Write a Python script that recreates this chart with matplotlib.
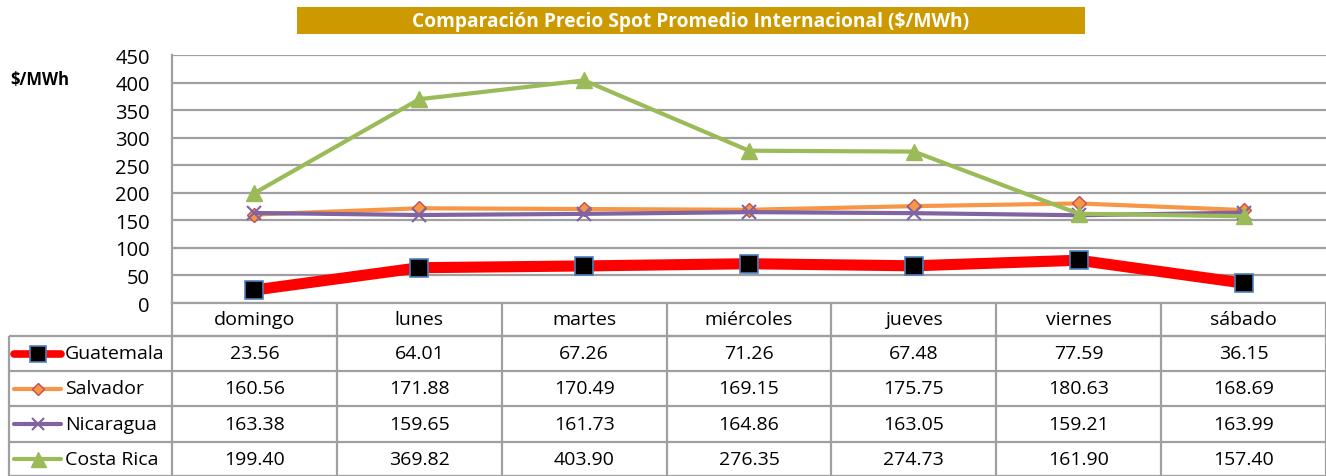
import matplotlib
matplotlib.use("Agg")
import matplotlib.pyplot as plt
from matplotlib.patches import Rectangle

days = ["domingo", "lunes", "martes", "miércoles", "jueves", "viernes", "sábado"]
series_names = ["Guatemala", "Salvador", "Nicaragua", "Costa Rica"]
guatemala = [23.56, 64.01, 67.26, 71.26, 67.48, 77.59, 36.15]
salvador = [160.56, 171.88, 170.49, 169.15, 175.75, 180.63, 168.69]
nicaragua = [163.38, 159.65, 161.73, 164.86, 163.05, 159.21, 163.99]
costa_rica = [199.40, 369.82, 403.90, 276.35, 274.73, 161.90, 157.40]
y_ticks = [0, 50, 100, 150, 200, 250, 300, 350, 400, 450]
title = "Comparación Precio Spot Promedio Internacional ($/MWh)"
y_label = "$/MWh"

values = [guatemala, salvador, nicaragua, costa_rica]
styles = [
    dict(color="#FF0000", lw=8, marker="s", ms=13, mfc="#000000", mec="#4F81BD", mew=1.2),
    dict(color="#F79646", lw=3, marker="D", ms=7, mfc="#F79646", mec="#C0504D", mew=1.0),
    dict(color="#8064A2", lw=3, marker="x", ms=10, mfc="#8064A2", mec="#8064A2", mew=1.5),
    dict(color="#9BBB59", lw=3, marker="^", ms=12, mfc="#9BBB59", mec="#9BBB59", mew=1.0),
]

W, H = 1326, 477
FONT = "Open Sans"
FS = 14
GRID = "#A0A0A0"

fig = plt.figure(figsize=(W / 100, H / 100), dpi=100)

ov = fig.add_axes([0, 0, 1, 1])
ov.set_xlim(0, W)
ov.set_ylim(H, 0)
ov.axis("off")

x0, x1, ytop, ybot = 172, 1326, 56, 304
ax = fig.add_axes([x0 / W, 1 - ybot / H, (x1 - x0) / W, (ybot - ytop) / H])
ax.set_xlim(-0.5, len(days) - 0.5)
ax.set_ylim(0, 450)
ax.set_yticks(y_ticks)
ax.set_yticklabels([str(t) for t in y_ticks], fontsize=14.5, family=FONT)
ax.tick_params(axis="y", length=0, pad=16)
ax.set_xticks([])
ax.grid(axis="y", color=GRID, lw=1.6)
ax.set_axisbelow(True)
for s in ["top", "right"]:
    ax.spines[s].set_visible(False)
ax.spines["left"].set_color(GRID)
ax.spines["left"].set_linewidth(1.6)
ax.spines["bottom"].set_color(GRID)
ax.spines["bottom"].set_linewidth(1.6)
xs = list(range(len(days)))
for vals, st in zip(values, styles):
    ax.plot(xs, vals, solid_capstyle="butt", solid_joinstyle="round", **st, zorder=3)

ov.add_patch(Rectangle((297, 8), 788, 27, facecolor="#CC9900", edgecolor="none"))
ov.text((297 + 1085) / 2, 22, title, color="white", fontsize=13.8, fontweight="bold",
        family=FONT, ha="center", va="center")
ov.text(10, 80, y_label, fontsize=12, fontweight="bold", family=FONT, ha="left", va="center")

col_w = (x1 - x0) / len(days)
rows = [304, 337, 372, 407, 443, 477]
lkw = dict(color=GRID, lw=1.6, solid_capstyle="butt")
ov.plot([x0, x1], [rows[1], rows[1]], **lkw)
for r in rows[1:]:
    ov.plot([9, x1], [r, r], **lkw)
ov.plot([9, 9], [rows[1], rows[-1]], **lkw)
for i in range(len(days) + 1):
    xv = x0 + i * col_w
    ov.plot([xv, xv], [rows[0], rows[-1]], **lkw)
for i, d in enumerate(days):
    ov.text(x0 + (i + 0.5) * col_w, (rows[0] + rows[1]) / 2, d, fontsize=FS, family=FONT,
            ha="center", va="center")
for j, (name, vals, st) in enumerate(zip(series_names, values, styles)):
    yc = (rows[j + 1] + rows[j + 2]) / 2
    lw = min(st["lw"], 5.5)
    ov.plot([14, 61], [yc, yc], color=st["color"], lw=lw, solid_capstyle="round")
    ms = st["ms"] * (0.85 if j == 0 else 0.9)
    ov.plot([37.5], [yc], marker=st["marker"], ms=ms, mfc=st["mfc"], mec=st["mec"],
            mew=st["mew"], ls="none")
    ov.text(65, yc, name, fontsize=FS, family=FONT, ha="left", va="center")
    for i, v in enumerate(vals):
        ov.text(x0 + (i + 0.5) * col_w, yc, f"{v:.2f}", fontsize=FS, family=FONT,
                ha="center", va="center")

fig.savefig("out.png", dpi=100)
